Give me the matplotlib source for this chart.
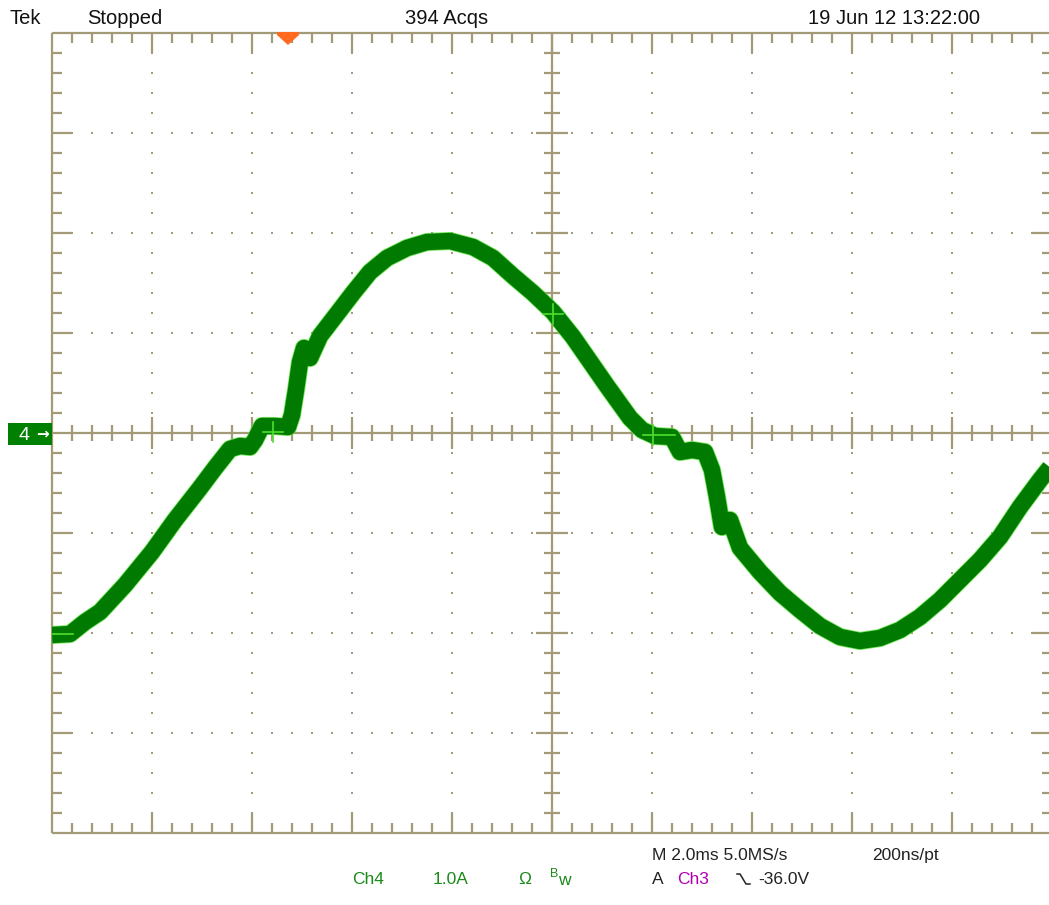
import numpy as np
import matplotlib.pyplot as plt
from matplotlib.collections import LineCollection
from matplotlib.lines import Line2D
from matplotlib.patches import Polygon, Rectangle

W, H = 1049, 905

# Ch4 current, 2.0 ms/div horizontally, 1.0 A/div vertically
t_ms = [0.0, 0.36, 0.66, 0.96, 1.46, 2.0, 2.46, 2.96, 3.26, 3.56, 3.76, 3.96,
        4.06, 4.2, 4.46, 4.72, 4.8, 4.88, 4.96, 5.04, 5.16, 5.36, 5.76, 6.02,
        6.36, 6.7, 7.1, 7.5, 7.96, 8.42, 8.82, 9.22, 9.62, 10.02, 10.42, 11.1,
        11.56, 11.8, 12.06, 12.4, 12.56, 12.8, 13.06, 13.2, 13.3, 13.4, 13.56,
        13.76, 14.16, 14.56, 14.96, 15.36, 15.76, 16.16, 16.56, 16.96, 17.36,
        17.76, 18.16, 18.56, 18.96, 19.36, 19.76, 20.0]
i_amp = [-2.02, -2.01, -1.89, -1.79, -1.52, -1.19, -0.87, -0.55, -0.35, -0.16,
         -0.13, -0.14, -0.07, 0.07, 0.07, 0.06, 0.18, 0.43, 0.71, 0.85, 0.75,
         0.97, 1.23, 1.40, 1.61, 1.75, 1.85, 1.91, 1.92, 1.86, 1.75, 1.57, 1.40,
         1.21, 0.96, 0.47, 0.15, 0.03, -0.03, -0.04, -0.19, -0.17, -0.19, -0.37,
         -0.64, -0.94, -0.87, -1.15, -1.39, -1.60, -1.77, -1.93, -2.04, -2.08,
         -2.05, -1.97, -1.84, -1.67, -1.47, -1.27, -1.04, -0.74, -0.47, -0.32]

# light green cursor crosses (t, A)
cross_t = [4.42, 10.02]
cross_a = [0.01, 1.19]

GRID = '#a39a78'
DARK = '#007a00'
LIGHT = '#4fe030'

fig = plt.figure(figsize=(W / 100, H / 100), dpi=100)
fig.patch.set_facecolor('white')
ax = fig.add_axes([52 / W, 72 / H, 1000 / W, 800 / H])
ax.set_xlim(0, 20)
ax.set_ylim(-4, 4)
ax.axis('off')

px_t = 20 / 1000   # ms per pixel
px_a = 8 / 800     # A per pixel

# dotted graticule
for k in range(1, 10):
    if k == 5:
        continue
    a = np.arange(-4, 4.001, 0.2)
    ax.plot(np.full_like(a, 2 * k), a, ls='none', marker='s', ms=1.5, mew=0, color=GRID)
for k in (-3, -2, -1, 1, 2, 3):
    t = np.arange(0, 20.001, 0.4)
    ax.plot(t, np.full_like(t, k), ls='none', marker='s', ms=1.5, mew=0, color=GRID)

segs = []
# border and center cross
segs += [[(0, -4), (20, -4)], [(0, 4), (20, 4)], [(0, -4), (0, 4)], [(20, -4), (20, 4)]]
segs += [[(0, 0), (20, 0)], [(10, -4), (10, 4)]]
for n in range(1, 50):
    t = n * 0.4
    major = n % 5 == 0
    L = (20 if major else 10) * px_a
    c = (16 if major else 8) * px_a
    segs.append([(t, 4), (t, 4 - L)])
    segs.append([(t, -4), (t, -4 + L)])
    segs.append([(t, -c), (t, c)])
for n in range(-19, 20):
    if n == 0:
        continue
    a = n * 0.2
    major = n % 5 == 0
    L = (20 if major else 10) * px_t
    c = (16 if major else 8) * px_t
    segs.append([(0, a), (L, a)])
    segs.append([(20, a), (20 - L, a)])
    segs.append([(10 - c, a), (10 + c, a)])
ax.add_collection(LineCollection(segs, colors=GRID, linewidths=1.6, clip_on=False))

# trace
ax.plot(t_ms, i_amp, color=LIGHT, lw=13, alpha=0.8, solid_joinstyle='round', solid_capstyle='butt')
ax.plot(t_ms, i_amp, color=DARK, lw=11.8, solid_joinstyle='round', solid_capstyle='butt')

for ct, ca in zip(cross_t, cross_a):
    ax.plot([ct - 10 * px_t, ct + 10 * px_t], [ca, ca], color=LIGHT, lw=1.2)
    ax.plot([ct, ct], [ca - 10 * px_a, ca + 10 * px_a], color=LIGHT, lw=1.2)
ax.plot([0, 0.42], [-2.01, -2.01], color=LIGHT, lw=1.2)
ax.plot([11.82, 12.46], [-0.02, -0.02], color=LIGHT, lw=1.2)
ax.plot([12.02, 12.02], [-0.12, 0.08], color=LIGHT, lw=1.2)


def fx(x):
    return x / W


def fy(y):
    return 1 - y / H


# channel 4 ground marker
fig.add_artist(Rectangle((fx(8), fy(445)), 44 / W, 22 / H, transform=fig.transFigure,
                         facecolor='#008000', edgecolor='none'))
fig.text(fx(24), fy(435), '4', color='white', fontsize=14, ha='center', va='center',
         family='Liberation Sans')
fig.text(fx(43), fy(434), '\u2192', color='white', fontsize=11, ha='center', va='center',
         family='DejaVu Sans', fontweight='bold')

# trigger position marker
fig.add_artist(Polygon([(fx(277), fy(32)), (fx(299), fy(32)), (fx(299), fy(35)),
                        (fx(288), fy(45)), (fx(277), fy(35))],
                       closed=True, transform=fig.transFigure,
                       facecolor='#ff6a1f', edgecolor='none'))

top = dict(fontsize=14.5, family='Liberation Sans', color='#111111', va='center')
fig.text(fx(10), fy(18), 'Tek', **top)
fig.text(fx(87), fy(18), 'Stopped', **top)
fig.text(fx(405), fy(18), '394 Acqs', **top)
fig.text(fx(808), fy(18), '19 Jun 12 13:22:00', **top)

bot = dict(fontsize=12.5, family='Liberation Sans', va='center')
fig.text(fx(652), fy(855), 'M 2.0ms 5.0MS/s', color='#222222', **bot)
fig.text(fx(872), fy(855), '200ns/pt', color='#222222', **bot)
fig.text(fx(352), fy(879), 'Ch4', color='#1a8a1a', **bot)
fig.text(fx(433), fy(879), '1.0A', color='#1a8a1a', **bot)
fig.text(fx(518), fy(879), '\u03a9', color='#1a8a1a', **bot)
fig.text(fx(550), fy(874), 'B', color='#1a8a1a', fontsize=9, family='Liberation Sans', va='center')
fig.text(fx(558), fy(880), 'w', color='#1a8a1a', **bot)
fig.text(fx(652), fy(879), 'A', color='#222222', **bot)
fig.text(fx(677), fy(879), 'Ch3', color='#b000b0', **bot)
fig.add_artist(Line2D([fx(737), fx(740), fx(746), fx(750)],
                      [fy(874), fy(874), fy(884), fy(884)],
                      transform=fig.transFigure, color='#222222', lw=1.1))
fig.text(fx(758), fy(879), '-36.0V', color='#222222', **bot)

fig.savefig('out.png', dpi=100)
